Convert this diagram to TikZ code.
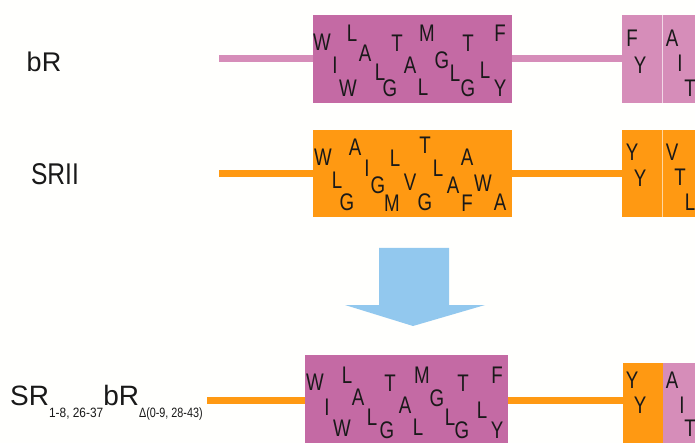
\documentclass[tikz,border=0pt]{standalone}
\usepackage{fontspec}
\setmainfont{Liberation Sans}
\usepackage{graphicx}
\definecolor{bgc}{HTML}{FFFFFD}
\definecolor{mag}{RGB}{196,106,164}
\definecolor{pinkl}{RGB}{214,141,185}
\definecolor{org}{RGB}{255,153,18}
\definecolor{arrb}{RGB}{146,200,238}
\definecolor{ink}{RGB}{25,25,25}
\newcommand\sqz[1]{\scalebox{0.78}[1]{#1}}
\tikzset{
  res/.style={inner sep=0pt, text=ink, font=\fontsize{24}{24}\selectfont},
  seg/.style={inner sep=0pt, draw=none, anchor=north west},
  divline/.style={draw=white!65!pinkl, line width=0.6pt},
  pinkbar/.style={draw=pinkl, line width=7pt},
  orgbar/.style={draw=org, line width=7pt},
  lbl/.style={inner sep=0pt, text=ink}
}
\begin{document}
\begin{tikzpicture}[x=1pt,y=-1pt]
\fill[bgc] (0,0) rectangle (695,443);
\path[use as bounding box] (0,0) rectangle (695,443);
\clip (0,0) rectangle (695,443);

% ---------- row 1: bR ----------
\node[seg, fill=mag, minimum width=199pt, minimum height=88pt] (b1) at (313,15) {};
\node[seg, fill=pinkl, minimum width=40pt, minimum height=88pt] (b1r) at (622,15) {};
\node[seg, fill=pinkl, minimum width=60pt, minimum height=88pt] (b1s) at (662,15) {};
\draw[divline] (b1s.north west) -- (b1s.south west);
\coordinate (s1) at (219,59);
\draw[pinkbar] (s1) -- (s1 -| b1.west);
\draw[pinkbar] (s1 -| b1.east) -- (s1 -| b1r.west);
\node[lbl, font=\fontsize{27}{27}\selectfont] (lb1) at (44,62) {bR};

\foreach \c/\x/\y [count=\i] in {W/322/42, L/352/33, I/335/65, A/365/53, T/397/43, M/427/33, L/380/72, W/348/88, G/390/88, A/410/65, L/423/87, G/442/60, T/468/43, F/500/33, L/455/73, L/485/70, G/468/88, Y/500/88, F/632/38, Y/640/65, A/672/38, I/680/63, T/690/88}
  \node[res] (ra\i) at (\x,\y) {\sqz{\c}};

% ---------- row 2: SRII ----------
\node[seg, fill=org, minimum width=199pt, minimum height=87pt] (b2) at (313,130) {};
\node[seg, fill=org, minimum width=40pt, minimum height=87pt] (b2r) at (622,130) {};
\node[seg, fill=org, minimum width=60pt, minimum height=87pt] (b2s) at (662,130) {};
\draw[draw=white!60!org, line width=0.6pt] (b2s.north west) -- (b2s.south west);
\coordinate (s2) at (219,174);
\draw[orgbar] (s2) -- (s2 -| b2.west);
\draw[orgbar] (s2 -| b2.east) -- (s2 -| b2r.west);
\node[lbl, font=\fontsize{30}{30}\selectfont] (lb2) at (55,174) {\scalebox{0.82}[1]{SRII}};

\foreach \c/\x/\y [count=\i] in {W/323/157, A/355/147, L/337/180, I/367/168, G/347/202, L/395/158, G/378/185, M/392/203, V/410/182, T/425/145, L/438/168, G/425/202, A/467/157, A/453/185, W/483/183, F/467/203, A/500/202, Y/632/152, Y/640/178, V/672/152, T/680/177, L/690/202}
  \node[res] (rb\i) at (\x,\y) {\sqz{\c}};

% ---------- arrow ----------
\fill[arrb] (379,248) -- (449,248) -- (449,305) -- (485,305) -- (413,326) -- (345,305) -- (379,305) -- cycle;

% ---------- row 3: chimera ----------
\node[seg, fill=mag, minimum width=203pt, minimum height=100pt] (b3) at (305,355) {};
\node[seg, fill=org, minimum width=40pt, minimum height=90pt] (b3r) at (623,363) {};
\node[seg, fill=pinkl, minimum width=60pt, minimum height=90pt] (b3s) at (663,363) {};
\coordinate (s3) at (207,400);
\draw[orgbar] (s3) -- (s3 -| b3.west);
\draw[orgbar] (s3 -| b3.east) -- (s3 -| b3r.west);
\node[lbl, anchor=base west] (lb3) at (10,405) {\fontsize{28}{28}\selectfont SR\raisebox{-12pt}{\fontsize{13.5}{13.5}\selectfont\scalebox{0.88}[1]{1-8, 26-37}}bR\raisebox{-12pt}{\fontsize{13.5}{13.5}\selectfont\scalebox{0.8}[1]{Δ(0-9, 28-43)}}};

\foreach \c/\x/\y [count=\i] in {W/315/382, L/347/375, I/327/407, A/358/397, T/390/383, M/422/375, L/372/417, W/342/428, G/387/430, A/405/405, L/418/427, G/437/398, T/463/383, F/497/375, L/450/417, L/482/410, G/462/430, Y/497/430, Y/632/380, Y/640/405, A/672/380, I/682/405, T/690/428}
  \node[res] (rc\i) at (\x,\y) {\sqz{\c}};
\end{tikzpicture}
\end{document}
